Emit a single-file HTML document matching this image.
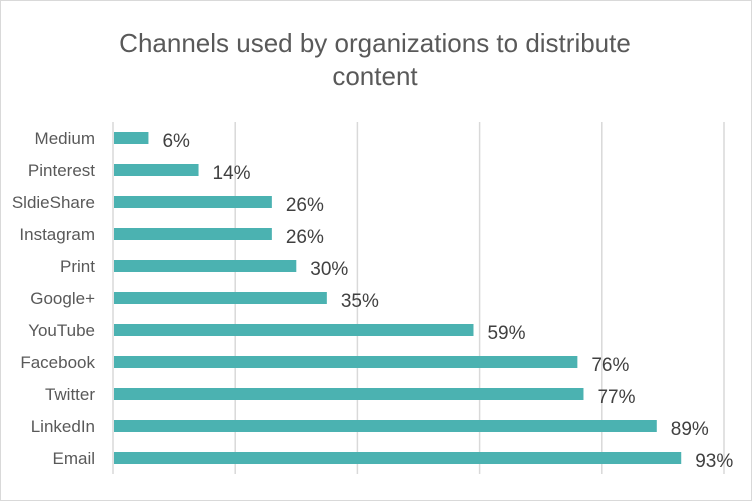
<!DOCTYPE html>
<html><head><meta charset="utf-8"><style>
body{margin:0;background:#fff}
svg{display:block;font-family:"Liberation Sans",sans-serif}
</style></head><body>
<svg id="chart" width="752" height="501">
<rect x="0.5" y="0.5" width="751" height="500" fill="#fff" stroke="#d9d9d9"/>
<text x="375" y="52" text-anchor="middle" font-size="26" fill="#595959">Channels used by organizations to distribute</text>
<text x="375" y="85" text-anchor="middle" font-size="26" fill="#595959">content</text>
<g id="grid"></g><g id="bars"></g>
</svg>
<script>
const categories=["Medium","Pinterest","SldieShare","Instagram","Print","Google+","YouTube","Facebook","Twitter","LinkedIn","Email"];
const values=[5.8,14,26,26,30,35,59,76,77,89,93];
const ticks=[0,20,40,60,80,100];
const ns="http://www.w3.org/2000/svg";
const x0=113,x1=724,yTop=122,band=32;
const xs=v=>x0+(x1-x0)*v/100;
const ys=i=>yTop+band*i;
const g=document.getElementById('grid'),b=document.getElementById('bars');
function mk(t,a,p){const e=document.createElementNS(ns,t);for(const k in a)e.setAttribute(k,a[k]);p.appendChild(e);return e;}
ticks.forEach(t=>{
 const l=mk('line',{x1:xs(t),x2:xs(t),y1:yTop,y2:yTop+band*categories.length,stroke:'#d9d9d9','stroke-width':1.5},g);
 
 
});
categories.forEach((c,i)=>{
 const yc=ys(i)+16;
 const r=mk('rect',{x:x0+1,y:yc-6,width:xs(values[i])-x0-1,height:12,fill:'#4bb2b1'},b);
 
 
 const t=mk('text',{x:95,y:yc+6,'text-anchor':'end','font-size':17,fill:'#595959'},b);
 t.textContent=c;
 
 
 const v=mk('text',{x:xs(values[i])+14,y:yc+9,'font-size':19,fill:'#404040'},b);
 v.textContent=Math.round(values[i])+'%';
 
 
});
</script>
</body></html>
